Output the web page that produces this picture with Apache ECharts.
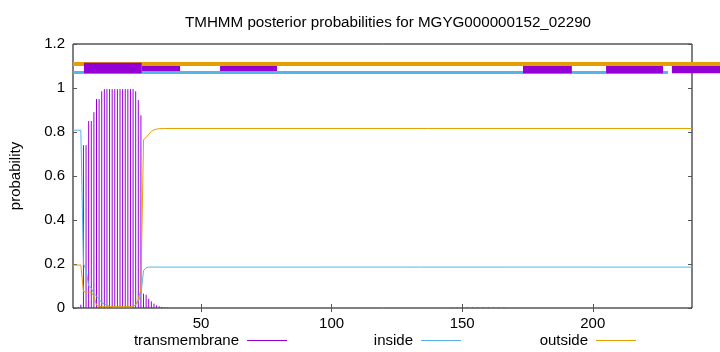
<!DOCTYPE html>
<html><head><meta charset="utf-8">
<script src="https://cdn.jsdelivr.net/npm/echarts@6/dist/echarts.min.js"></script>
<style>html,body{margin:0;padding:0;background:#fff}#c{width:720px;height:352px}</style>
</head><body><div id="c"></div>
<script>
const titleText = 'TMHMM posterior probabilities for MGYG000000152_02290';
const xTickValues = [50, 100, 150, 200];
const seqStart = 1;
const seqEnd = 238;

// [residue, probability]
const transmembrane = [
  [3,0.005],[4,0.015],[5,0.74],[6,0.74],[7,0.85],[8,0.85],[9,0.89],[10,0.95],
  [11,0.95],[12,0.985],[13,0.995],[14,0.995],[15,0.995],[16,0.995],[17,0.995],
  [18,0.995],[19,0.995],[20,0.995],[21,0.995],[22,0.995],[23,0.995],[24,0.995],
  [25,0.985],[26,0.945],[27,0.876],[28,0.065],[29,0.06],[30,0.042],[31,0.03],
  [32,0.02],[33,0.012],[34,0.008],[35,0.005],[36,0.003],[37,0.002],
  [146,0.002],[148,0.003],[150,0.003],[152,0.003],[154,0.003],[156,0.003],
  [158,0.003],[160,0.003],[162,0.002],[164,0.002],[166,0.002]
];
const inside = [
  [1,0.808],[4,0.808],[5,0.2],[6,0.175],[7,0.1],[8,0.09],[9,0.065],[10,0.055],
  [11,0.04],[12,0.025],[13,0.018],[14,0.012],[15,0.008],[16,0.005],[23,0.005],
  [24,0.008],[25,0.015],[26,0.03],[27,0.06],[28,0.17],[29,0.183],[30,0.186],
  [238,0.186]
];
const outside = [
  [1,0.195],[4,0.195],[5,0.075],[6,0.073],[7,0.072],[8,0.071],[9,0.055],[10,0.012],
  [11,0.008],[12,0.006],[24,0.006],[25,0.015],[26,0.04],[27,0.085],[28,0.765],
  [29,0.775],[30,0.79],[31,0.803],[32,0.81],[33,0.813],[34,0.815],[36,0.816],
  [238,0.816]
];

// top annotation tracks: [start residue, end residue]
const outsideTrack = [[1, 249]];
const insideTrack = [[1, 228.8]];
const tmTrackTall = [[5.2, 27.3]];
const tmTrackLow = [[173.3, 192.0], [205.1, 226.9], [230.3, 249]];
const tmTrackThin = [[27.3, 42.0], [57.3, 79.1]];

const FONT = 'Liberation Sans, Arial, sans-serif';
const PURPLE = '#9400d3', BLUE = '#56b4e9', ORANGE = '#e69f00';

function band(data, yLo, yHi, color, z) {
  return {
    type: 'custom', silent: true, clip: false, z: z, data: data,
    encode: { x: [0, 1] },
    renderItem: function (params, api) {
      const p1 = api.coord([api.value(0), yHi]);
      const p2 = api.coord([api.value(1), yLo]);
      return { type: 'rect', shape: { x: p1[0], y: p1[1], width: p2[0] - p1[0], height: p2[1] - p1[1] },
               style: { fill: color } };
    }
  };
}

const chart = echarts.init(document.getElementById('c'), null, { renderer: 'canvas' });
const axisTickStyle = { show: true, inside: true, length: 4, lineStyle: { color: '#555', width: 1 } };
function legendFor(name, right) {
  return { data: [name], right: right, top: 328, align: 'right', itemWidth: 40, itemHeight: 1, icon: 'rect',
           textStyle: { fontFamily: FONT, fontSize: 15, color: '#000', padding: [0, 3, 0, 0] } };
}
chart.setOption({
  animation: false,
  backgroundColor: '#fff',
  textStyle: { fontFamily: FONT },
  title: { text: titleText, left: 383, top: 10, textAlign: 'center',
           textStyle: { fontFamily: FONT, fontSize: 15.2, fontWeight: 'normal', color: '#000' } },
  grid: { left: 73, right: 28, top: 44, bottom: 44, show: true, borderColor: '#000', borderWidth: 1,
          backgroundColor: 'transparent' },
  legend: [legendFor('transmembrane', 428), legendFor('inside', 254), legendFor('outside', 79)],
  xAxis: [
    { type: 'value', min: seqStart, max: seqEnd, position: 'bottom',
      axisLine: { show: false }, splitLine: { show: false },
      axisTick: Object.assign({ customValues: xTickValues }, axisTickStyle),
      axisLabel: { customValues: xTickValues, fontSize: 15, color: '#000', margin: 8, fontFamily: FONT } },
    { type: 'value', min: seqStart, max: seqEnd, position: 'top',
      axisLine: { show: false }, splitLine: { show: false },
      axisTick: Object.assign({ customValues: xTickValues }, axisTickStyle),
      axisLabel: { show: false } }
  ],
  yAxis: [
    { type: 'value', min: 0, max: 1.2, interval: 0.2, position: 'left',
      name: 'probability', nameLocation: 'middle', nameGap: 50,
      nameTextStyle: { fontSize: 15, color: '#000', fontFamily: FONT },
      axisLine: { show: false }, splitLine: { show: false }, axisTick: axisTickStyle,
      axisLabel: { fontSize: 15, color: '#000', margin: 8, fontFamily: FONT } },
    { type: 'value', min: 0, max: 1.2, interval: 0.2, position: 'right',
      axisLine: { show: false }, splitLine: { show: false }, axisTick: axisTickStyle,
      axisLabel: { show: false } }
  ],
  series: [
    { name: 'transmembrane', type: 'custom', data: transmembrane, z: 2,
      itemStyle: { color: PURPLE },
      renderItem: function (params, api) {
        const a = api.coord([api.value(0), 0]);
        const b = api.coord([api.value(0), api.value(1)]);
        return { type: 'line', shape: { x1: a[0], y1: a[1], x2: b[0], y2: b[1] },
                 style: { stroke: PURPLE, lineWidth: 1 } };
      } },
    { name: 'inside', type: 'line', data: inside, showSymbol: false, z: 3,
      itemStyle: { color: BLUE }, lineStyle: { color: BLUE, width: 1 } },
    { name: 'outside', type: 'line', data: outside, showSymbol: false, z: 4,
      itemStyle: { color: ORANGE }, lineStyle: { color: ORANGE, width: 1 } },
    band(outsideTrack, 1.1, 1.118, ORANGE, 5),
    band(insideTrack, 1.064, 1.077, BLUE, 5),
    band(tmTrackTall, 1.067, 1.115, PURPLE, 6),
    band(tmTrackLow, 1.067, 1.1, PURPLE, 6),
    band(tmTrackThin, 1.077, 1.1, PURPLE, 6)
  ]
});
</script>
</body></html>
